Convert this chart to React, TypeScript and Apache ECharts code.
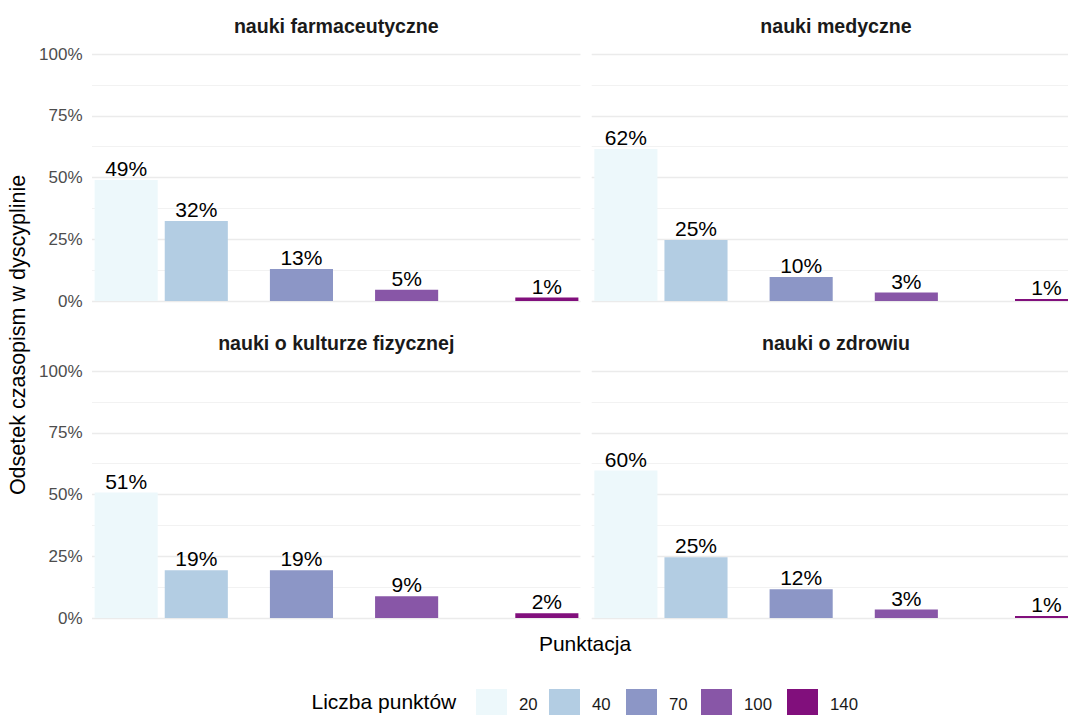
import React, { useEffect, useRef } from "react";
import * as echarts from "echarts";

// ---- data ----
const CATEGORIES = ["20", "40", "70", "100", "140"];
const POINTS = [20, 40, 70, 100, 140];
const PANELS = [
  "nauki farmaceutyczne",
  "nauki medyczne",
  "nauki o kulturze fizycznej",
  "nauki o zdrowiu",
];
const farmaceutyczne = [0.49, 0.324, 0.13, 0.046, 0.014];
const medyczne = [0.615, 0.247, 0.097, 0.034, 0.008];
const kulturaFizyczna = [0.508, 0.193, 0.193, 0.088, 0.019];
const zdrowie = [0.597, 0.246, 0.116, 0.034, 0.008];
const PANEL_VALUES = [farmaceutyczne, medyczne, kulturaFizyczna, zdrowie];
const COLORS = ["#EDF8FB", "#B3CDE3", "#8C96C6", "#8856A7", "#810F7C"];
const Y_TITLE = "Odsetek czasopism w dyscyplinie";
const X_TITLE = "Punktacja";
const LEGEND_TITLE = "Liczba punktów";

const FONT = "'Liberation Sans', Arial, Helvetica, sans-serif";

export default function App() {
  const ref = useRef<HTMLDivElement>(null);

  useEffect(() => {
    if (!ref.current) return;
    const chart = echarts.init(ref.current, undefined, { renderer: "svg" });

    const X_MIN = 10.25;
    const X_MAX = 149.6;
    const W = 488.5;
    const H = 247;
    const lefts = [92, 591.7, 92, 591.7];
    const tops = [54, 54, 371, 371];
    const barWidth = (18 * W) / (X_MAX - X_MIN);

    const grid = lefts.map((l, i) => ({
      left: l,
      top: tops[i],
      width: W,
      height: H,
      outerBoundsMode: "none",
      containLabel: false,
    }));

    const xAxis = lefts.map((_, i) => ({
      type: "value",
      gridIndex: i,
      min: X_MIN,
      max: X_MAX,
      axisLabel: { show: false },
      axisTick: { show: false },
      axisLine: { show: false },
      splitLine: { show: false },
    }));

    const yAxis = lefts.map((_, i) => ({
      type: "value",
      gridIndex: i,
      min: 0,
      max: 1,
      interval: 0.25,
      axisLine: { show: false },
      axisTick: { show: false },
      axisLabel: {
        show: i % 2 === 0,
        formatter: (v: number) => Math.round(v * 100) + "%",
        fontSize: 17,
        color: "#4D4D4D",
        fontFamily: FONT,
        margin: 9.5,
      },
      splitLine: { show: true, lineStyle: { color: "#EBEBEB", width: 1.4 } },
      minorTick: { show: false, splitNumber: 2 },
      minorSplitLine: { show: true, lineStyle: { color: "#EFEFEF", width: 0.8 } },
    }));

    const barSeries = PANELS.map((name, p) => ({
      type: "bar",
      name,
      xAxisIndex: p,
      yAxisIndex: p,
      barWidth,
      data: PANEL_VALUES[p].map((v, i) => ({
        value: [POINTS[i], v],
        itemStyle: { color: COLORS[i] },
      })),
      label: {
        show: true,
        position: "top",
        distance: 1,
        fontSize: 21,
        color: "#000000",
        fontFamily: FONT,
        formatter: (prm: any) => Math.round(prm.value[1] * 100) + "%",
      },
    }));

    const legendSeries = CATEGORIES.map((c, i) => ({
      type: "scatter",
      name: c,
      xAxisIndex: 0,
      yAxisIndex: 0,
      data: [],
      itemStyle: { color: COLORS[i], opacity: 1 },
    }));

    const legendLefts = [476, 549, 626, 701, 787];
    const legend = CATEGORIES.map((c, i) => ({
      data: [c],
      left: legendLefts[i],
      top: 689,
      padding: 0,
      itemWidth: 31,
      itemHeight: 31,
      icon: "rect",
      selectedMode: false,
      itemStyle: { opacity: 1 },
      textStyle: {
        fontSize: 16.8,
        color: "#1A1A1A",
        fontFamily: FONT,
        padding: [0, 0, 0, 7],
      },
    }));

    const stripY = [26, 26, 342.5, 342.5];
    const graphic: any[] = PANELS.map((name, i) => ({
      type: "text",
      x: lefts[i] + W / 2,
      y: stripY[i],
      style: {
        text: name,
        align: "center",
        verticalAlign: "middle",
        font: `bold 19.6px ${FONT}`,
        fill: "#1A1A1A",
      },
    }));
    graphic.push(
      {
        type: "text",
        x: 17.5,
        y: 335,
        rotation: Math.PI / 2,
        style: {
          text: Y_TITLE,
          align: "center",
          verticalAlign: "middle",
          font: `21.5px ${FONT}`,
          fill: "#000000",
        },
      },
      {
        type: "text",
        x: 585,
        y: 643,
        style: {
          text: X_TITLE,
          align: "center",
          verticalAlign: "middle",
          font: `21px ${FONT}`,
          fill: "#000000",
        },
      },
      {
        type: "text",
        x: 311.5,
        y: 701,
        style: {
          text: LEGEND_TITLE,
          align: "left",
          verticalAlign: "middle",
          font: `21px ${FONT}`,
          fill: "#000000",
        },
      }
    );

    chart.setOption({
      animation: false,
      backgroundColor: "#FFFFFF",
      grid,
      xAxis,
      yAxis,
      legend,
      series: [...barSeries, ...legendSeries],
      graphic,
    });

    return () => chart.dispose();
  }, []);

  return (
    <div
      ref={ref}
      style={{ position: "fixed", left: 0, top: 0, width: 1068, height: 715 }}
    />
  );
}
